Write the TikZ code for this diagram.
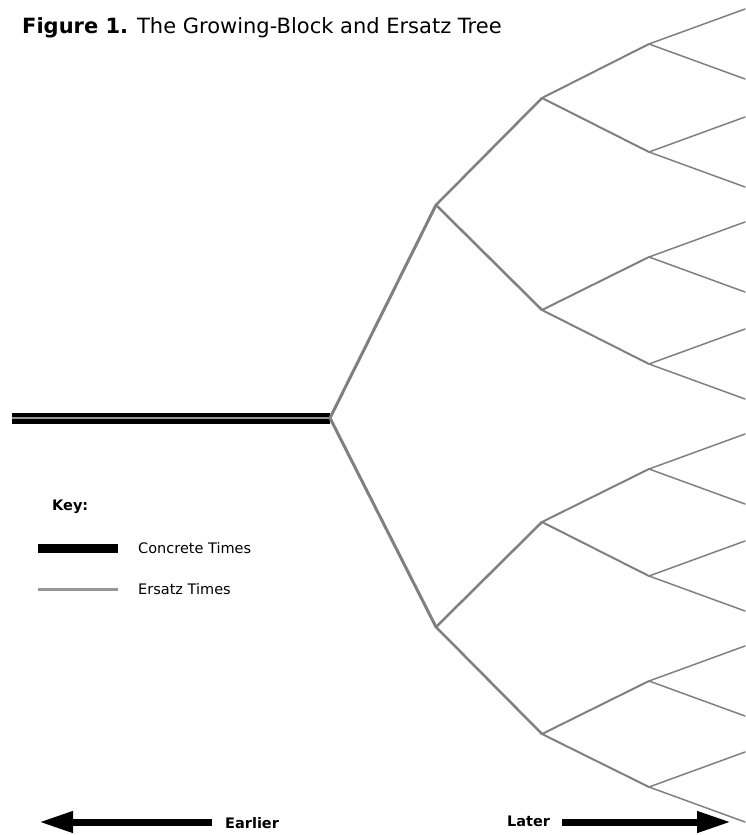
\documentclass[tikz,border=0pt]{standalone}
\usepackage{fontspec}
\setmainfont{DejaVu Sans}
\usetikzlibrary{arrows.meta}
\definecolor{treegray}{RGB}{128,128,128}
\definecolor{keygray}{RGB}{150,150,150}
\begin{document}
\begin{tikzpicture}[x=1pt,y=-1pt,
  ers/.style={draw=treegray, line cap=round, line join=round},
  e0/.style={ers, line width=3pt},
  e1/.style={ers, line width=2.5pt},
  e2/.style={ers, line width=2pt},
  e3/.style={ers, line width=1.5pt},
  lbl/.style={anchor=west, inner sep=0pt, font=\fontsize{14.5}{16}\selectfont},
  blbl/.style={anchor=west, inner sep=0pt, font=\fontsize{14.5}{16}\selectfont\bfseries},
  bigarrow/.style={line width=7pt, -{Triangle[length=34pt,width=20pt]}}]
\useasboundingbox (0,0) rectangle (745,835);

% title
\node[anchor=base west, inner sep=0pt, font=\fontsize{21}{24}\selectfont] (title) at (22,33)
  {\textbf{Figure 1.} The Growing-Block and Ersatz Tree};

% tree coordinates
\coordinate (c0) at (12,418);
\coordinate (r) at (330,418);
\coordinate (a1) at (436,205);
\coordinate (a2) at (436,627);
\coordinate (b1) at (542,98);
\coordinate (b2) at (542,310);
\coordinate (b3) at (542,522);
\coordinate (b4) at (542,734);
\foreach \i/\yy in {1/44,2/152,3/257,4/364,5/469,6/576,7/681,8/787}{
  \coordinate (d\i) at (649,\yy);
  \coordinate (u\i) at (745,\yy-35);
  \coordinate (l\i) at (745,\yy+35);
}

% concrete times
\draw[line width=11pt, black] (c0) -- (r);
\draw[line width=1.6pt, keygray] (c0) -- (r);

% ersatz tree
\draw[e0] (a1) -- (r) -- (a2);
\draw[e1] (b1) -- (a1) -- (b2);
\draw[e1] (b3) -- (a2) -- (b4);
\draw[e2] (d1) -- (b1) -- (d2);
\draw[e2] (d3) -- (b2) -- (d4);
\draw[e2] (d5) -- (b3) -- (d6);
\draw[e2] (d7) -- (b4) -- (d8);
\foreach \i in {1,...,8}{
  \draw[e3] (u\i) -- (d\i) -- (l\i);
}

% key
\node[blbl] (key) at (52,507) {Key:};
\coordinate (k1a) at (38,548);
\coordinate (k1b) at (118,548);
\coordinate (k2a) at (38,589);
\coordinate (k2b) at (118,589);
\draw[line width=9pt, black] (k1a) -- (k1b);
\draw[line width=3pt, keygray] (k2a) -- (k2b);
\node[lbl] (conc) at (138,548) {Concrete Times};
\node[lbl] (ersz) at (138,589) {Ersatz Times};

% time arrows
\coordinate (ea) at (212,822);
\coordinate (eb) at (39,822);
\coordinate (la) at (562,822);
\coordinate (lb) at (731,822);
\draw[bigarrow] (ea) -- (eb);
\draw[bigarrow] (la) -- (lb);
\node[blbl] (earlier) at (225,823) {Earlier};
\node[blbl] (later) at (507,821) {Later};
\end{tikzpicture}
\end{document}
